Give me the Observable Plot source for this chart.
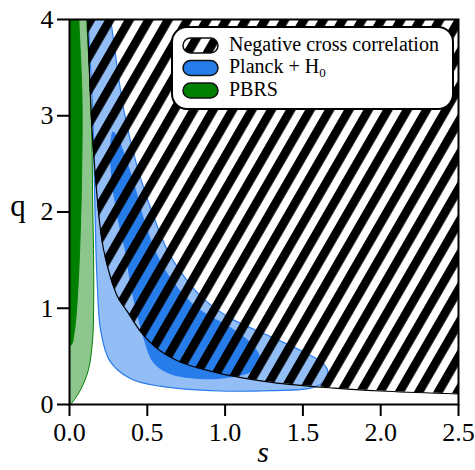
<!DOCTYPE html>
<html><head><meta charset="utf-8">
<script src="https://cdn.jsdelivr.net/npm/d3@7"></script>
<script src="https://cdn.jsdelivr.net/npm/@observablehq/plot@0.6"></script>
<style>body{margin:0;background:#fff}</style>
</head><body><div id="chart"></div>
<script>
// ---- data ----
const xTicks = [0, 0.5, 1, 1.5, 2, 2.5];
const yTicks = [0, 1, 2, 3, 4];
// lower boundary of the "negative cross correlation" region (s, q)
const hatchBoundary = [[0.105,4.4],[0.115,4.0],[0.14,3.0],[0.17,2.3],[0.2,1.8],[0.25,1.4],[0.3,1.15],[0.37,0.97],[0.46,0.75],[0.55,0.6],[0.7,0.45],[0.85,0.37],[1.0,0.31],[1.3,0.23],[1.7,0.17],[2.0,0.14],[2.5,0.11],[2.6,0.105]];
// Planck + H0 contours (s, q)
const planck95 = [[0.11,4.3],[0.24,4.3],[0.265,4.0],[0.35,3.05],[0.43,2.5],[0.53,2.0],[0.63,1.6],[0.75,1.3],[0.86,1.1],[1.03,0.9],[1.3,0.7],[1.5,0.55],[1.62,0.44],[1.66,0.35],[1.63,0.23],[1.55,0.17],[1.3,0.145],[0.97,0.14],[0.58,0.19],[0.39,0.27],[0.26,0.45],[0.2,0.77],[0.18,1.2],[0.17,1.6],[0.16,2.3],[0.15,3.0],[0.12,4.0]];
const planck68 = [[0.28,2.83],[0.31,2.76],[0.40,2.36],[0.48,1.9],[0.56,1.55],[0.66,1.28],[0.82,1.0],[1.03,0.8],[1.16,0.64],[1.22,0.5],[1.21,0.4],[1.15,0.33],[1.0,0.28],[0.84,0.27],[0.65,0.32],[0.54,0.44],[0.47,0.74],[0.40,1.2],[0.36,1.6],[0.31,1.95],[0.27,2.4],[0.265,2.7]];
// PBRS contours (s, q)
const pbrs95 = [[-0.02,4.3],[0.10,4.3],[0.11,4.0],[0.14,3.0],[0.15,2.0],[0.155,1.5],[0.155,1.0],[0.148,0.66],[0.12,0.35],[0.07,0.15],[0.03,0.05],[0.005,0.0],[-0.02,0.0]];
const pbrs68 = [[-0.02,4.3],[0.055,4.3],[0.06,4.0],[0.08,3.2],[0.078,2.4],[0.065,1.6],[0.05,1.1],[0.038,0.85],[0.025,0.7],[0.015,0.63],[-0.02,0.6]];
const legendLabels = ["Negative cross correlation", "Planck + H", "PBRS"];

const lightBlue = "#93bef5", darkBlue = "#267de9", edgeBlue = "#2a7cf0";
const lightGreen = "#8cc68c", darkGreen = "#008000";

const toObj = a => a.map(([s, q]) => ({s, q}));

const plot = Plot.plot({
  width: 475, height: 470,
  marginLeft: 69, marginRight: 17, marginTop: 19, marginBottom: 66,
  x: {domain: [0, 2.5]},
  y: {domain: [0, 4]},
  style: {fontFamily: "'Liberation Serif', serif", fontSize: "26px", color: "black", background: "white"},
  marks: [
    Plot.line(toObj(pbrs95), {x: "s", y: "q", curve: "catmull-rom-closed", fill: lightGreen, stroke: darkGreen, strokeWidth: 1, clip: true}),
    Plot.line(toObj(pbrs68), {x: "s", y: "q", curve: "catmull-rom-closed", fill: darkGreen, stroke: darkGreen, strokeWidth: 1, clip: true}),
    Plot.line(toObj(planck95), {x: "s", y: "q", curve: "catmull-rom-closed", fill: lightBlue, stroke: edgeBlue, strokeWidth: 1.2, clip: true}),
    Plot.line(toObj(planck68), {x: "s", y: "q", curve: "catmull-rom-closed", fill: darkBlue, stroke: edgeBlue, strokeWidth: 1.2, clip: true}),
    Plot.areaY(toObj(hatchBoundary), {x: "s", y1: "q", y2: 4.5, curve: "monotone-x", fill: "url(#hatchPat)", clip: true}),
    Plot.line(toObj(hatchBoundary), {x: "s", y: "q", curve: "monotone-x", stroke: "black", strokeWidth: 1.2, clip: true}),
    Plot.frame({stroke: "black", strokeWidth: 2}),
    Plot.axisX({ticks: xTicks, tickFormat: d => d.toFixed(1), tickSize: 12, tickPadding: 6, strokeWidth: 2, label: null}),
    Plot.axisY({ticks: yTicks, tickFormat: d => String(d), tickSize: 12, tickPadding: 4, strokeWidth: 2, label: null})
  ]
});

const svg = d3.select(plot);
const defs = svg.insert("defs", ":first-child");
const P = 16.8;
const pat = defs.append("pattern").attr("id", "hatchPat").attr("patternUnits", "userSpaceOnUse")
  .attr("width", P).attr("height", P).attr("patternTransform", "rotate(30)");
pat.append("rect").attr("width", P / 2 + 0.3).attr("height", P).attr("fill", "black");

// axis labels
svg.append("text").attr("x", 18).attr("y", 216).attr("text-anchor", "middle")
  .style("font-size", "31px").text("q");
svg.append("text").attr("x", 263).attr("y", 462).attr("text-anchor", "middle")
  .style("font-size", "30px").style("font-style", "italic").text("s");

// legend
const lg = svg.append("g").attr("text-anchor", "start");
lg.append("rect").attr("x", 172).attr("y", 27).attr("width", 281).attr("height", 82).attr("rx", 15)
  .attr("fill", "white").attr("stroke", "black").attr("stroke-width", 2);
const handleFills = ["url(#hatchPat)", darkBlue, darkGreen];
const rowY = [38, 60.5, 83];
handleFills.forEach((f, i) => {
  if (i === 0) lg.append("rect").attr("x", 183).attr("y", rowY[i]).attr("width", 35).attr("height", 15).attr("rx", 7.5).attr("fill", "white");
  lg.append("rect").attr("x", 183).attr("y", rowY[i]).attr("width", 35).attr("height", 15).attr("rx", 7.5)
    .attr("fill", f).attr("stroke", "#111").attr("stroke-width", 1.5);
});
legendLabels.forEach((t, i) => {
  const tx = lg.append("text").attr("x", 229).attr("y", rowY[i] + 12.5)
    .attr("text-anchor", "start").style("font-size", "20px");
  tx.append("tspan").text(t);
  if (i === 1) tx.append("tspan").attr("dy", 4).style("font-size", "13px").text("0");
});

document.getElementById("chart").appendChild(plot);
</script>
</body></html>
